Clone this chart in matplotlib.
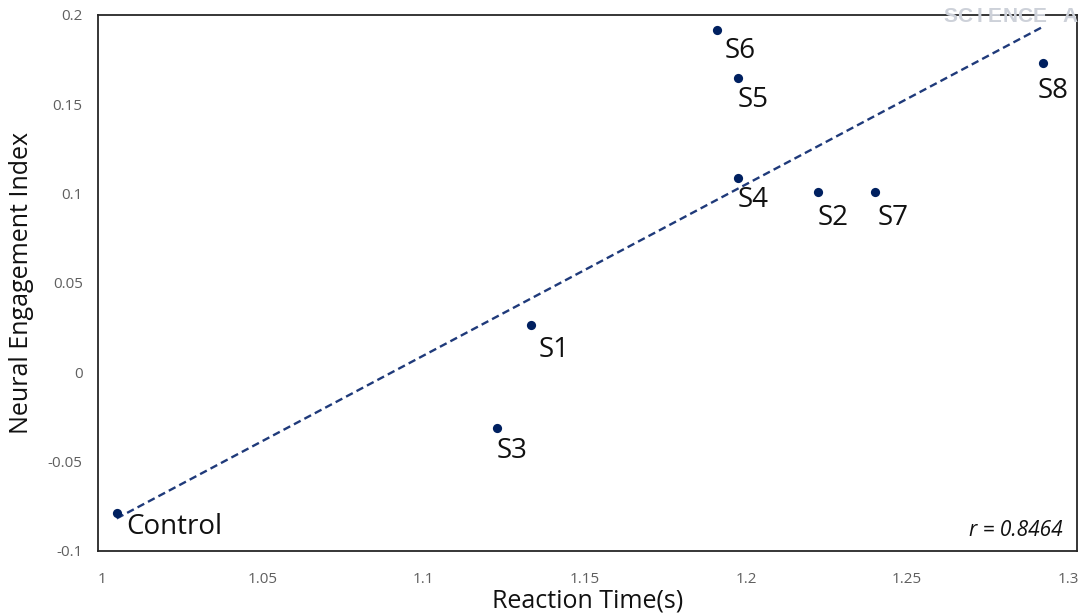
import numpy as np
import matplotlib
matplotlib.use("Agg")
import matplotlib.pyplot as plt

# ---- data ----
labels = ["Control", "S1", "S2", "S3", "S4", "S5", "S6", "S7", "S8"]
reaction_time = [1.0046, 1.1334, 1.2225, 1.1226, 1.1974, 1.1974, 1.1909, 1.2401, 1.2923]
engagement = [-0.0785, 0.0263, 0.1009, -0.0312, 0.1087, 0.1647, 0.1914, 0.1009, 0.1733]
x_ticks = [1, 1.05, 1.1, 1.15, 1.2, 1.25, 1.3]
x_ticklabels = ["1", "1.05", "1.1", "1.15", "1.2", "1.25", "1.3"]
y_ticks = [-0.1, -0.05, 0, 0.05, 0.1, 0.15, 0.2]
y_ticklabels = ["-0.1", "-0.05", "0", "0.05", "0.1", "0.15", "0.2"]
r_text = "r = 0.8464"
watermark = "SCIENCE A"

# label offsets (pixels: right, down to baseline)
label_offsets = {"Control": (10, 21), "S1": (7, 32), "S2": (-1, 33), "S3": (0, 30),
                 "S4": (0, 29), "S5": (0, 29), "S6": (8, 28), "S7": (3, 33), "S8": (-6, 35)}

plt.rcParams['font.family'] = ['Open Sans', 'DejaVu Sans']
DPI = 100
W, H = 1082, 614
fig = plt.figure(figsize=(W / DPI, H / DPI), dpi=DPI)
ax = fig.add_axes([98 / W, 1 - 551 / H, (1077 - 98) / W, (551 - 15) / H])

navy = "#002060"
ax.scatter(reaction_time, engagement, s=44, color=navy, zorder=3, linewidths=0)

# trend line (least squares)
xr = np.array(reaction_time)
yr = np.array(engagement)
m, b = np.polyfit(xr, yr, 1)
xl = np.array([xr.min(), xr.max()])
ax.plot(xl, m * xl + b, color="#1F3A7A", lw=1.7, dashes=(3.2, 1.8), zorder=2)

px2pt = 72 / DPI
for lab, xv, yv in zip(labels, reaction_time, engagement):
    dx, dy = label_offsets[lab]
    ax.annotate(lab, (xv, yv), xytext=(dx * px2pt, -dy * px2pt), textcoords="offset points",
                ha="left", va="baseline", fontsize=20, color="#111111")

ax.set_xlim(0.9988, 1.3028)
ax.set_ylim(-0.1, 0.2)
ax.set_xticks(x_ticks)
ax.set_xticklabels(x_ticklabels)
ax.set_yticks(y_ticks)
ax.set_yticklabels(y_ticklabels)
ax.tick_params(axis="both", length=0, labelsize=11, labelcolor="#5f5f5f")
ax.tick_params(axis="x", pad=15)
ax.tick_params(axis="y", pad=11)

for sp in ax.spines.values():
    sp.set_color("#262626")
    sp.set_linewidth(1.3)

ax.set_xlabel("Reaction Time(s)", fontsize=18, color="#111111", labelpad=1)
ax.set_ylabel("Neural Engagement Index", fontsize=18, color="#111111", labelpad=10)

ax.text(0.985, 0.018, r_text, transform=ax.transAxes, ha="right", va="bottom",
        fontsize=15, style="italic", color="#111111")

# watermark (letter-spaced, drawn over the frame)
x0 = 950
pitch = 15.0
for i, ch in enumerate(watermark):
    if ch == " ":
        continue
    fig.text((x0 + i * pitch) / W, 1 - 16 / H, ch, ha="center", va="center", fontsize=15,
             fontweight="bold", color="#cdd1d9", zorder=10, family="Liberation Sans")

fig.savefig("out.png", dpi=DPI)
